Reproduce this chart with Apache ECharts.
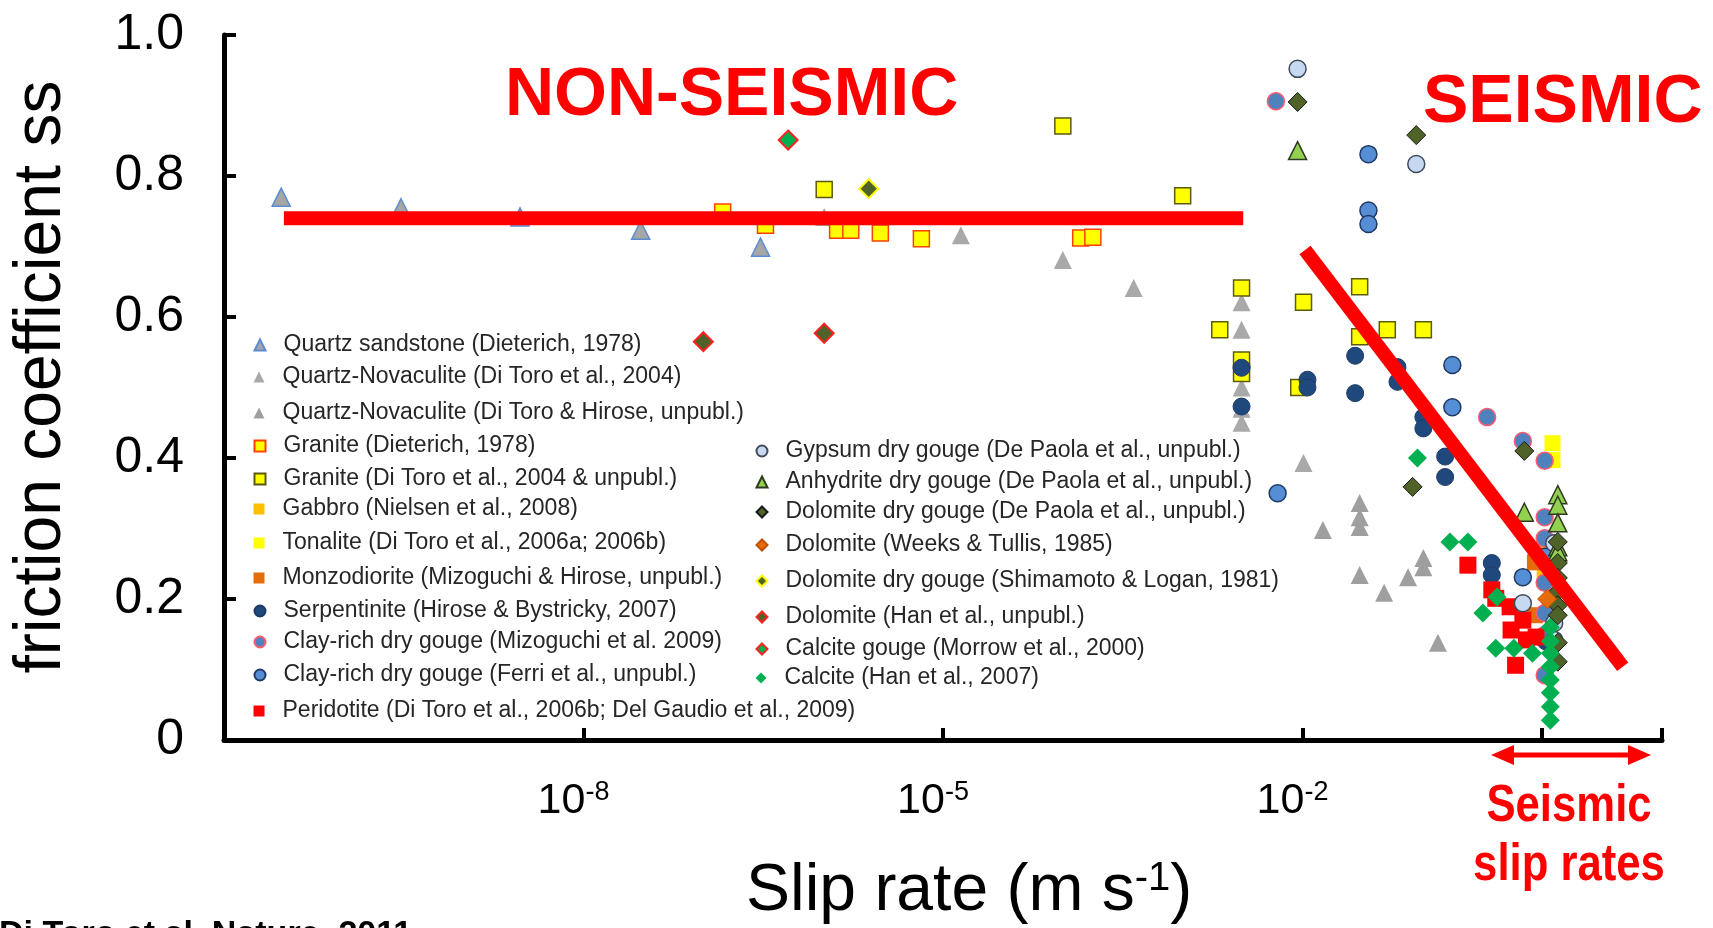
<!DOCTYPE html>
<html><head><meta charset="utf-8">
<script src="https://cdn.jsdelivr.net/npm/echarts@6/dist/echarts.min.js"></script>
<style>html,body{margin:0;padding:0;background:#fff}#c{width:1713px;height:928px}</style>
</head><body><div id="c"></div>
<script>
// ---- data: [slip rate (m/s), steady-state friction coefficient] ----
const quartzSandstone = [[3.0e-11,0.770],[3.0e-10,0.755],[2.95e-9,0.742],[3.0e-8,0.723],[3.0e-7,0.699]];
const quartzNovDiToro = [[1.02e-6,0.742],[1.41e-5,0.716],[1.0e-4,0.681],[3.9e-4,0.641],[3.1e-3,0.621],[3.1e-3,0.582],[3.1e-3,0.500],[3.1e-3,0.470],[3.1e-3,0.450],[1.02e-2,0.393]];
const quartzNovHirose = [[1.48e-2,0.298],[3.0e-2,0.336],[3.0e-2,0.316],[3.0e-2,0.302],[3.0e-2,0.234],[4.8e-2,0.209],[7.6e-2,0.231],[0.102,0.258],[0.102,0.245],[0.135,0.138]];
const graniteDieterich = [[1.45e-7,0.749],[3.3e-7,0.730],[1.32e-6,0.723],[1.7e-6,0.723],[3.0e-6,0.719],[6.6e-6,0.711],[1.41e-4,0.712],[1.78e-4,0.713]];
const graniteDiToro = [[1.02e-6,0.781],[1.0e-4,0.871],[1.0e-3,0.772],[3.1e-3,0.641],[2.04e-3,0.582],[3.1e-3,0.539],[3.1e-3,0.520],[1.02e-2,0.621],[9.3e-3,0.500],[3.0e-2,0.643],[3.0e-2,0.572],[5.1e-2,0.582],[0.102,0.582]];
const gabbro = [[1.0,0.270],[1.05,0.240]];
const tonalite = [[1.22,0.421],[1.22,0.397]];
const monzodiorite = [[0.87,0.252],[0.87,0.177]];
const serpentinite = [[3.1e-3,0.528],[3.1e-3,0.473],[1.1e-2,0.511],[1.1e-2,0.500],[2.75e-2,0.545],[2.75e-2,0.492],[6.2e-2,0.529],[6.2e-2,0.508],[0.102,0.458],[0.102,0.442],[0.155,0.402],[0.155,0.373],[0.38,0.251],[0.38,0.234],[1.07,0.140]];
const clayMizoguchi = [[6.0e-3,0.906],[0.347,0.458],[0.69,0.424],[1.05,0.396],[1.05,0.316],[1.05,0.286],[1.05,0.223],[1.05,0.180],[1.05,0.149],[1.05,0.092]];
const clayFerri = [[3.55e-2,0.831],[3.55e-2,0.751],[3.55e-2,0.732],[0.178,0.532],[0.178,0.472],[6.2e-3,0.350],[0.69,0.231],[1.05,0.260]];
const peridotite = [[0.24,0.248],[0.41,0.201],[0.38,0.213],[0.54,0.189],[0.69,0.170],[0.55,0.156],[0.74,0.142],[0.60,0.106],[0.89,0.146]];
const gypsum = [[9.1e-3,0.952],[8.9e-2,0.817],[0.69,0.194],[1.26,0.279],[1.26,0.166],[1.26,0.142]];
const anhydrite = [[9.1e-3,0.836],[0.71,0.323],[1.35,0.348],[1.35,0.333],[1.35,0.308],[1.35,0.274],[1.35,0.267]];
const dolomiteDePaola = [[9.1e-3,0.905],[8.9e-2,0.858],[8.3e-2,0.359],[0.71,0.410],[1.35,0.281],[1.35,0.251],[1.35,0.230],[1.35,0.210],[1.35,0.191],[1.35,0.177],[1.35,0.138],[1.35,0.111]];
const dolomiteWeeks = [[1.1,0.200]];
const dolomiteShimamoto = [[2.4e-6,0.782]];
const dolomiteHan = [[1.0e-7,0.565],[1.02e-6,0.577]];
const calciteMorrow = [[5.1e-7,0.851]];
const calciteHan = [[9.1e-2,0.400],[0.17,0.281],[0.24,0.281],[0.42,0.203],[0.32,0.180],[0.41,0.130],[0.58,0.130],[0.83,0.123],[1.17,0.160],[1.17,0.140],[1.17,0.123],[1.17,0.104],[1.17,0.085],[1.17,0.067],[1.17,0.047],[1.17,0.028]];
// trend lines
const nonSeismicTrend = [[3.16e-11,0.740],[3.2e-3,0.740]];
const seismicTrend = [[1.05e-2,0.695],[4.7,0.104]];
// axis ticks
const xTickValues = [1e-8,1e-5,1e-2,1,10];
const xLabelValues = [1e-8,1e-5,1e-2];

const FONT = "'Liberation Sans', Arial, Helvetica, sans-serif";

const seriesDefs = [
 {name:'Quartz sandstone (Dieterich, 1978)', data:quartzSandstone, symbol:'triangle', size:18, color:'#A6A6A6', border:'#5B8BD0', bw:1.5},
 {name:'Quartz-Novaculite (Di Toro et al., 2004)', data:quartzNovDiToro, symbol:'triangle', size:18, color:'#A9A9A9', border:'#A9A9A9', bw:0},
 {name:'Quartz-Novaculite (Di Toro & Hirose, unpubl.)', data:quartzNovHirose, symbol:'triangle', size:18, color:'#9F9F9F', border:'#9F9F9F', bw:0},
 {name:'Granite (Dieterich, 1978)', data:graniteDieterich, symbol:'rect', size:16, color:'#FFFF00', border:'#FF4000', bw:1.5},
 {name:'Granite (Di Toro et al., 2004 & unpubl.)', data:graniteDiToro, symbol:'rect', size:16, color:'#FFFF00', border:'#5A5A10', bw:1.5},
 {name:'Gabbro (Nielsen et al., 2008)', data:gabbro, symbol:'rect', size:16, color:'#FFC000', border:'#FFC000', bw:0},
 {name:'Tonalite (Di Toro et al., 2006a; 2006b)', data:tonalite, symbol:'rect', size:16, color:'#FFFF00', border:'#FFFF00', bw:0},
 {name:'Monzodiorite (Mizoguchi & Hirose, unpubl.)', data:monzodiorite, symbol:'rect', size:16, color:'#E46C0A', border:'#E46C0A', bw:0},
 {name:'Serpentinite (Hirose & Bystricky, 2007)', data:serpentinite, symbol:'circle', size:17, color:'#1F497D', border:'#1F3A66', bw:1},
 {name:'Clay-rich dry gouge (Mizoguchi et al. 2009)', data:clayMizoguchi, symbol:'circle', size:17, color:'#4F81BD', border:'#FF5A6E', bw:1.5},
 {name:'Clay-rich dry gouge (Ferri et al., unpubl.)', data:clayFerri, symbol:'circle', size:17, color:'#558ED5', border:'#1F3A66', bw:1.5},
 {name:'Peridotite (Di Toro et al., 2006b; Del Gaudio et al., 2009)', data:peridotite, symbol:'rect', size:17, color:'#FF0000', border:'#FF0000', bw:0},
 {name:'Gypsum dry gouge (De Paola et al., unpubl.)', data:gypsum, symbol:'circle', size:17, color:'#C6D9F1', border:'#404A5A', bw:1.5},
 {name:'Anhydrite dry gouge (De Paola et al., unpubl.)', data:anhydrite, symbol:'triangle', size:18, color:'#92D050', border:'#2F3A20', bw:1.5},
 {name:'Dolomite dry gouge (De Paola et al., unpubl.)', data:dolomiteDePaola, symbol:'diamond', size:19, color:'#4F6228', border:'#1A1A1A', bw:1},
 {name:'Dolomite (Weeks & Tullis, 1985)', data:dolomiteWeeks, symbol:'diamond', size:19, color:'#E46C0A', border:'#C05000', bw:1},
 {name:'Dolomite dry gouge (Shimamoto & Logan, 1981)', data:dolomiteShimamoto, symbol:'diamond', size:19, color:'#4F6228', border:'#FFFF00', bw:2},
 {name:'Dolomite (Han et al., unpubl.)', data:dolomiteHan, symbol:'diamond', size:19, color:'#4F6228', border:'#FF2020', bw:2},
 {name:'Calcite gouge (Morrow et al., 2000)', data:calciteMorrow, symbol:'diamond', size:19, color:'#00B050', border:'#FF2020', bw:2},
 {name:'Calcite (Han et al., 2007)', data:calciteHan, symbol:'diamond', size:19, color:'#00B050', border:'#00B050', bw:0}
];

// legend entry anchors (icon centre x, row centre y), same order as seriesDefs
const legendLayout = [
 [259,345],[259,377],[259,413],[259,446],[259,479],[259,509],[259,543],[259,578],[259,611],[259,642],[259,675],[259,711],
 [761,451],[761,482],[761,512],[761,545],[761,581],[761,617],[761,649],[761,678]
];

const series = seriesDefs.map(s => ({
  type:'scatter', name:s.name, data:s.data, symbol:s.symbol, symbolSize:s.size, z:2,
  itemStyle:{color:s.color, borderColor:s.border, borderWidth:s.bw, opacity:1},
  emphasis:{disabled:true}
}));
[nonSeismicTrend, seismicTrend].forEach((d,i) => series.push({
  type:'line', name:'trend'+i, data:d, symbol:'none', z:5, silent:true,
  lineStyle:{color:'#FF0000', width:14, cap:'butt'}, emphasis:{disabled:true}
}));

const legends = seriesDefs.map((s,i) => ({
  data:[s.name], left:legendLayout[i][0]-5.5, top:legendLayout[i][1]-12, padding:0,
  itemWidth:11, itemHeight:11, selectedMode:false, orient:'horizontal',
  textStyle:{fontSize:23, fontFamily:FONT, color:'#262626', lineHeight:24, padding:[0,0,0,13]}
}));

const chart = echarts.init(document.getElementById('c'), null, {renderer:'canvas'});
chart.setOption({
  animation:false,
  backgroundColor:'#ffffff',
  grid:{left:224, right:51, top:35, bottom:188, containLabel:false},
  legend:legends,
  xAxis:{
    type:'log', logBase:10, min:1e-11, max:10,
    axisLine:{show:true, lineStyle:{color:'#000', width:5}},
    axisTick:{show:true, inside:true, length:12, lineStyle:{color:'#000', width:4}, customValues:xTickValues},
    minorTick:{show:false},
    splitLine:{show:false},
    axisLabel:{
      show:true, customValues:xLabelValues, margin:39, padding:[0,20,0,0],
      formatter:function(v){ const e = Math.round(Math.log10(v)); return '{b|10}{s|' + e + '}'; },
      rich:{
        b:{fontSize:43, fontFamily:FONT, color:'#000', lineHeight:44},
        s:{fontSize:27, fontFamily:FONT, color:'#000', lineHeight:14, verticalAlign:'top'}
      }
    }
  },
  yAxis:{
    type:'value', min:0, max:1, interval:0.2,
    axisLine:{show:true, lineStyle:{color:'#000', width:5}},
    axisTick:{show:true, inside:true, length:12, lineStyle:{color:'#000', width:4}},
    splitLine:{show:false},
    axisLabel:{
      margin:40, fontSize:50, fontFamily:FONT, color:'#000',
      formatter:function(v){ return v === 0 ? '0' : v.toFixed(1); }
    }
  },
  graphic:[
    {type:'text', x:42, y:377, rotation:Math.PI/2, silent:true,
     style:{text:'friction coefficient ss', fontSize:66, fontFamily:FONT, fill:'#000', align:'center', verticalAlign:'middle'}},
    {type:'text', x:746, y:892, silent:true,
     style:{text:'{a|Slip rate (m s}{b|-1}{a|)}', align:'left', verticalAlign:'middle',
            rich:{a:{fontSize:66, fontFamily:FONT, fill:'#000', lineHeight:66},
                  b:{fontSize:40, fontFamily:FONT, fill:'#000', lineHeight:40, verticalAlign:'top'}}}},
    {type:'text', x:505, y:96, silent:true,
     style:{text:'NON-SEISMIC', fontSize:68, fontWeight:'bold', fontFamily:FONT, fill:'#FF0000', align:'left', verticalAlign:'middle'}},
    {type:'text', x:1423, y:103, silent:true,
     style:{text:'SEISMIC', fontSize:68, fontWeight:'bold', fontFamily:FONT, fill:'#FF0000', align:'left', verticalAlign:'middle'}},
    {type:'text', x:1569, y:836, scaleX:0.84, silent:true,
     style:{text:'Seismic\nslip rates', fontSize:52, lineHeight:59, fontWeight:'bold', fontFamily:FONT, fill:'#FF0000', align:'center', verticalAlign:'middle'}},
    {type:'line', silent:true, shape:{x1:1508, y1:755, x2:1634, y2:755}, style:{stroke:'#FF0000', lineWidth:5}},
    {type:'polygon', silent:true, shape:{points:[[1491,755],[1514,745],[1514,765]]}, style:{fill:'#FF0000'}},
    {type:'polygon', silent:true, shape:{points:[[1651,755],[1628,745],[1628,765]]}, style:{fill:'#FF0000'}},
    {type:'text', x:-1, y:935, silent:true,
     style:{text:'Di Toro et al. Nature, 2011', fontSize:34, fontWeight:'bold', fontFamily:FONT, fill:'#000', align:'left', verticalAlign:'middle'}}
  ],
  series:series
});
</script>
</body></html>
